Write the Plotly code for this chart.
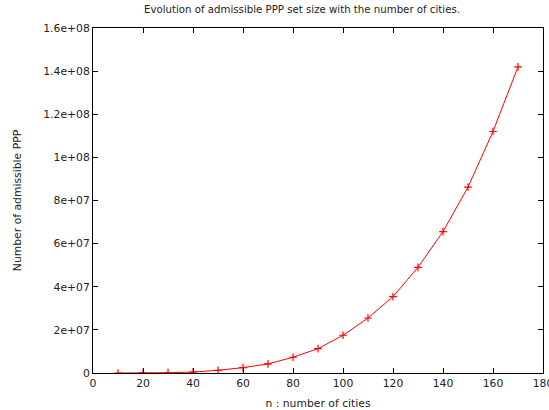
import plotly.graph_objects as go

n_cities = [10, 20, 30, 40, 50, 60, 70, 80, 90, 100, 110, 120, 130, 140, 150, 160, 170]
admissible = [2e3, 3e4, 1.4e5, 4.4e5, 1.25e6, 2.5e6, 4.2e6, 7.3e6, 1.13e7, 1.75e7,
              2.55e7, 3.54e7, 4.9e7, 6.56e7, 8.62e7, 1.12e8, 1.42e8]

x_ticks = list(range(0, 181, 20))
y_tickvals = [0, 2e7, 4e7, 6e7, 8e7, 1e8, 1.2e8, 1.4e8, 1.6e8]
y_ticktext = ["0", "2e+07", "4e+07", "6e+07", "8e+07", "1e+08", "1.2e+08", "1.4e+08", "1.6e+08"]

font = dict(family="DejaVu Sans", size=10.8, color="#222")

fig = go.Figure()
fig.add_trace(go.Scatter(
    x=n_cities, y=admissible, mode="lines+markers",
    line=dict(color="#ff0000", width=1),
    marker=dict(symbol="cross-thin", size=5.5, line=dict(color="#ff0000", width=1.2)),
    showlegend=False,
))

axis_common = dict(showgrid=False, zeroline=False, showline=True, linecolor="black",
                   linewidth=1, mirror="ticks", ticks="inside", ticklen=5,
                   tickcolor="black", tickfont=font, ticklabeloverflow="allow",
                   automargin=False)

fig.update_layout(
    width=549, height=410,
    margin=dict(l=93, r=6, t=28, b=37),
    paper_bgcolor="white", plot_bgcolor="white",
    font=font,
    title=dict(text="Evolution of admissible PPP set size with the number of cities.",
               x=302/549, xref="container", xanchor="center", y=1 - 9/410, yanchor="middle",
               font=dict(family="DejaVu Sans", size=10.2, color="#222")),
    xaxis=dict(range=[0, 180], tickvals=x_ticks, ticktext=[str(v) for v in x_ticks],
               title=dict(text="n : number of cities", standoff=10, font=font), **axis_common),
    yaxis=dict(range=[0, 1.6e8], tickvals=y_tickvals, ticktext=y_ticktext,
               title=dict(text="Number of admissible PPP", standoff=19, font=font), **axis_common),
)

fig.write_html("out.html")
